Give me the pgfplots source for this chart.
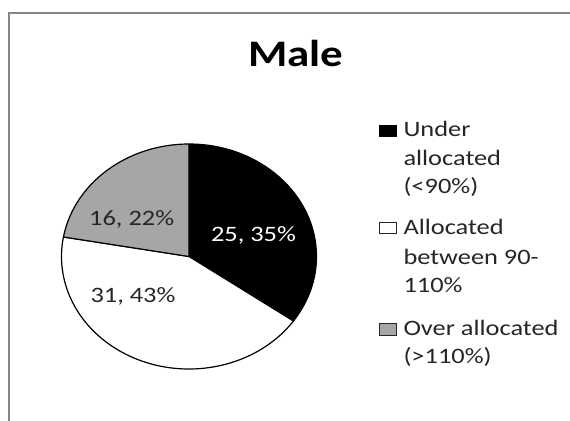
\documentclass[border=0pt]{standalone}
\usepackage{fontspec}
\setmainfont[FakeStretch=1.2]{Carlito}
\usepackage{pgfplots}
\usepackage{pgfplotstable}
\pgfplotsset{compat=1.18}
\definecolor{frame}{HTML}{868686}
\definecolor{slicegray}{HTML}{A6A6A6}
\definecolor{txt}{HTML}{262626}
\tikzset{
  lbl/.style={font=\fontsize{22bp}{28.5bp}\selectfont, text=txt, anchor=base, inner sep=0pt},
  leg/.style={font=\fontsize{22bp}{28.5bp}\selectfont, text=txt, anchor=base west, inner sep=0pt},
  slice/.style={draw=black, line width=1.2bp, line join=round},
}

% counts per category: under, between, over
\pgfplotstableread{
count
25
31
16
}\piedata

\begin{document}
\begin{tikzpicture}
\pgfplotstablegetelem{0}{count}\of\piedata \let\nA\pgfplotsretval
\pgfplotstablegetelem{1}{count}\of\piedata \let\nB\pgfplotsretval
\pgfplotstablegetelem{2}{count}\of\piedata \let\nC\pgfplotsretval
\pgfmathsetmacro\tot{\nA+\nB+\nC}
\pgfmathsetmacro\aA{90}
\pgfmathsetmacro\aB{\aA-\nA/\tot*360}
\pgfmathsetmacro\aC{\aB-\nB/\tot*360}
\pgfmathsetmacro\aD{\aC-\nC/\tot*360}
\useasboundingbox (0,0) rectangle (570bp,421bp);
\begin{axis}[at={(0,0)}, anchor=south west,
  width=570bp, height=421bp, scale only axis,
  xmin=0, xmax=570, ymin=0, ymax=421, y dir=reverse,
  hide axis, clip=false]
  % chart frame (cropped)
  \draw[frame, line width=2bp] (axis cs:9,421) -- (axis cs:9,12.7) -- (axis cs:570,12.7);
  % title
  \node[anchor=base, inner sep=0pt, font=\fontsize{37.5bp}{45bp}\selectfont\bfseries, text=black]
    at (axis cs:295.8,66.7) {Male};
  % pie slices
  \filldraw[slice, fill=black] (axis cs:189,256.5) -- ++(\aA:127.5bp and 112.5bp)
    arc[start angle=\aA, end angle=\aB, x radius=127.5bp, y radius=112.5bp] -- cycle;
  \filldraw[slice, fill=white] (axis cs:189,256.5) -- ++(\aB:127.5bp and 112.5bp)
    arc[start angle=\aB, end angle=\aC, x radius=127.5bp, y radius=112.5bp] -- cycle;
  \filldraw[slice, fill=slicegray] (axis cs:189,256.5) -- ++(\aC:127.5bp and 112.5bp)
    arc[start angle=\aC, end angle=\aD, x radius=127.5bp, y radius=112.5bp] -- cycle;
  % data labels
  \node[lbl, text=white] at (axis cs:253.5,241) {25, 35\%};
  \node[lbl] at (axis cs:133,302.3) {31, 43\%};
  \node[lbl] at (axis cs:131.7,225) {16, 22\%};
  % legend
  \filldraw[fill=black, draw=black, line width=0.8bp] (axis cs:379,125) rectangle (axis cs:396,136);
  \filldraw[fill=white, draw=txt, line width=0.8bp] (axis cs:379,222) rectangle (axis cs:396,233.5);
  \filldraw[fill=slicegray, draw=txt, line width=0.8bp] (axis cs:379,323) rectangle (axis cs:396,335);
  \node[leg] at (axis cs:403.3,136.7) {Under};
  \node[leg] at (axis cs:403.3,165) {allocated};
  \node[leg] at (axis cs:403.3,193.3) {(<90\%)};
  \node[leg] at (axis cs:403.3,234) {Allocated};
  \node[leg] at (axis cs:403.3,264) {between 90-};
  \node[leg] at (axis cs:403.3,292.7) {110\%};
  \node[leg] at (axis cs:403.3,335) {Over allocated};
  \node[leg] at (axis cs:403.3,363.3) {(>110\%)};
\end{axis}
\end{tikzpicture}
\end{document}
